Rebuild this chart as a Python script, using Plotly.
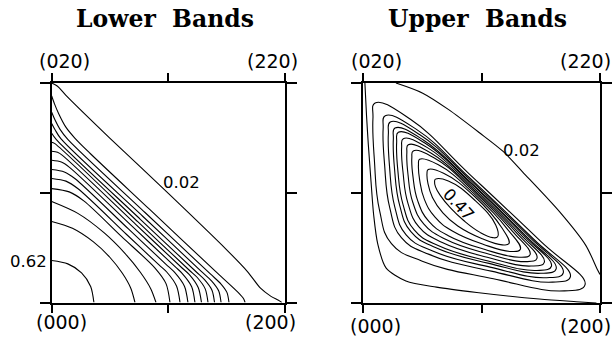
import plotly.graph_objects as go

W, H = 613, 345

# ---------------- Lower Bands (left panel) ----------------
# contour levels, outer (0.02) -> inner (0.62)
lower_levels = [0.02, 0.07, 0.11, 0.16, 0.20, 0.25, 0.30, 0.34, 0.39, 0.43, 0.48, 0.53, 0.57, 0.62]
# traced contour paths in unit coordinates: u = (000)->(200), v = (000)->(020)
lower_u = [
    [0, 0.025, 0.06, 0.25, 0.5, 0.75, 0.84, 0.895, 0.94, 0.972, 0.986],
    [0, 0.012, 0.03, 0.06, 0.10, 0.164, 0.42, 0.70, 0.80, 0.822, 0.829],
    [0, 0.015, 0.035, 0.07, 0.40, 0.68, 0.725, 0.751, 0.760],
    [0, 0.015, 0.04, 0.39, 0.64, 0.686, 0.716, 0.726],
    [0, 0.02, 0.38, 0.62, 0.655, 0.687, 0.698],
    [0, 0.012, 0.37, 0.59, 0.623, 0.658, 0.670],
    [0, 0.025, 0.046, 0.36, 0.56, 0.590, 0.628, 0.642],
    [0, 0.041, 0.075, 0.35, 0.53, 0.559, 0.600, 0.614],
    [0, 0.054, 0.099, 0.33, 0.49, 0.527, 0.569, 0.584],
    [0, 0.061, 0.113, 0.32, 0.46, 0.493, 0.535, 0.550],
    [0, 0.075, 0.139, 0.30, 0.441, 0.490, 0.507],
    [0, 0.112, 0.224, 0.313, 0.380, 0.425, 0.447],
    [0, 0.089, 0.179, 0.250, 0.303, 0.339, 0.357],
    [0, 0.069, 0.128, 0.167, 0.181],
]
lower_v = [
    [1.0, 0.985, 0.945, 0.748, 0.497, 0.24, 0.14, 0.065, 0.028, 0.01, 0.0],
    [0.941, 0.905, 0.86, 0.80, 0.748, 0.680, 0.424, 0.144, 0.045, 0.018, 0.0],
    [0.867, 0.83, 0.79, 0.742, 0.41, 0.13, 0.085, 0.046, 0.0],
    [0.816, 0.786, 0.745, 0.393, 0.143, 0.097, 0.052, 0.0],
    [0.771, 0.742, 0.379, 0.139, 0.104, 0.056, 0.0],
    [0.730, 0.725, 0.367, 0.147, 0.115, 0.062, 0.0],
    [0.689, 0.684, 0.670, 0.356, 0.156, 0.127, 0.068, 0.0],
    [0.648, 0.640, 0.617, 0.342, 0.162, 0.133, 0.072, 0.0],
    [0.606, 0.595, 0.565, 0.334, 0.174, 0.137, 0.074, 0.0],
    [0.565, 0.553, 0.518, 0.311, 0.171, 0.139, 0.075, 0.0],
    [0.519, 0.504, 0.462, 0.30, 0.159, 0.086, 0.0],
    [0.460, 0.406, 0.318, 0.225, 0.138, 0.062, 0.0],
    [0.369, 0.338, 0.276, 0.205, 0.133, 0.065, 0.0],
    [0.191, 0.176, 0.135, 0.073, 0.0],
]

# ---------------- Upper Bands (right panel) ----------------
upper_levels = [0.02, 0.06, 0.10, 0.14, 0.18, 0.22, 0.27, 0.31, 0.35, 0.39, 0.43, 0.47]
# the 0.02 level has two open branches
upper_open_u = [
    [0.139, 0.25, 0.36, 0.49, 0.59, 0.674, 0.83, 0.94, 0.99, 1.0],
    [0.008, 0.015, 0.0225, 0.034, 0.045, 0.062, 0.097, 0.181, 0.31, 0.48, 0.744, 0.90, 0.985],
]
upper_open_v = [
    [1.0, 0.955, 0.88, 0.775, 0.69, 0.595, 0.414, 0.262, 0.15, 0.13],
    [1.0, 0.85, 0.72, 0.55, 0.40, 0.27, 0.160, 0.100, 0.072, 0.048, 0.018, 0.006, 0.0],
]
# closed loops for the remaining levels, outer -> inner (0.47)
upper_loop_u = [
    [0.051, 0.200, 0.450, 0.750, 0.937, 0.850, 0.550, 0.250, 0.120, 0.070, 0.048, 0.042],
    [0.094, 0.227, 0.454, 0.718, 0.875, 0.800, 0.541, 0.279, 0.162, 0.113, 0.091, 0.085],
    [0.115, 0.240, 0.456, 0.703, 0.845, 0.775, 0.536, 0.294, 0.182, 0.134, 0.112, 0.107],
    [0.135, 0.253, 0.457, 0.687, 0.815, 0.750, 0.532, 0.308, 0.202, 0.155, 0.133, 0.128],
    [0.149, 0.261, 0.459, 0.677, 0.795, 0.734, 0.528, 0.317, 0.216, 0.169, 0.147, 0.142],
    [0.170, 0.275, 0.460, 0.661, 0.765, 0.709, 0.524, 0.332, 0.236, 0.190, 0.169, 0.163],
    [0.191, 0.288, 0.462, 0.646, 0.734, 0.684, 0.519, 0.346, 0.257, 0.210, 0.190, 0.185],
    [0.212, 0.301, 0.464, 0.630, 0.705, 0.660, 0.515, 0.360, 0.277, 0.231, 0.211, 0.206],
    [0.239, 0.318, 0.467, 0.610, 0.664, 0.627, 0.509, 0.379, 0.304, 0.259, 0.239, 0.234],
    [0.275, 0.340, 0.471, 0.585, 0.616, 0.588, 0.503, 0.400, 0.337, 0.293, 0.274, 0.270],
    [0.306, 0.360, 0.472, 0.560, 0.568, 0.548, 0.494, 0.425, 0.369, 0.326, 0.306, 0.302],
]
upper_loop_v = [
    [0.909, 0.835, 0.585, 0.280, 0.083, 0.055, 0.110, 0.190, 0.270, 0.420, 0.650, 0.840],
    [0.851, 0.788, 0.565, 0.292, 0.119, 0.095, 0.145, 0.221, 0.297, 0.432, 0.630, 0.792],
    [0.823, 0.765, 0.556, 0.299, 0.137, 0.115, 0.163, 0.236, 0.310, 0.437, 0.620, 0.768],
    [0.795, 0.742, 0.546, 0.305, 0.155, 0.135, 0.180, 0.251, 0.324, 0.443, 0.610, 0.745],
    [0.776, 0.727, 0.540, 0.309, 0.167, 0.148, 0.191, 0.261, 0.332, 0.447, 0.603, 0.729],
    [0.747, 0.704, 0.530, 0.315, 0.185, 0.168, 0.208, 0.276, 0.346, 0.452, 0.593, 0.706],
    [0.719, 0.681, 0.520, 0.321, 0.203, 0.188, 0.226, 0.291, 0.359, 0.458, 0.583, 0.682],
    [0.691, 0.659, 0.511, 0.327, 0.220, 0.208, 0.243, 0.306, 0.372, 0.464, 0.573, 0.659],
    [0.653, 0.628, 0.498, 0.335, 0.244, 0.234, 0.266, 0.326, 0.390, 0.471, 0.560, 0.628],
    [0.607, 0.590, 0.484, 0.343, 0.270, 0.264, 0.292, 0.350, 0.410, 0.480, 0.544, 0.588],
    [0.563, 0.555, 0.467, 0.355, 0.301, 0.297, 0.321, 0.375, 0.432, 0.489, 0.528, 0.553],
]

corner_labels = ["(020)", "(220)", "(000)", "(200)"]
titles = ["Lower\u00a0\u00a0Bands", "Upper\u00a0\u00a0Bands"]

# ---------------- figure ----------------
fig = go.Figure()
LINE = dict(color="black", width=1.1, shape="spline", smoothing=0.8)
LOOP = dict(color="black", width=1.1, shape="spline", smoothing=1.3)

for lev, us, vs in zip(lower_levels, lower_u, lower_v):
    fig.add_trace(go.Scatter(x=us, y=vs, mode="lines", line=LINE, name=f"{lev:.2f}",
                             xaxis="x", yaxis="y", showlegend=False))

for us, vs in zip(upper_open_u, upper_open_v):
    fig.add_trace(go.Scatter(x=us, y=vs, mode="lines", line=LINE, name="0.02",
                             xaxis="x2", yaxis="y2", showlegend=False))

for lev, us, vs in zip(upper_levels[1:], upper_loop_u, upper_loop_v):
    # start the closed path in the middle of the lower side so the join is smooth
    xs = us[6:] + us[:7]
    ys = vs[6:] + vs[:7]
    fig.add_trace(go.Scatter(x=xs, y=ys, mode="lines", line=LOOP, name=f"{lev:.2f}",
                             xaxis="x2", yaxis="y2", showlegend=False))

def px(x):
    return x / W

def py(y):
    return 1 - y / H

ax_common = dict(range=[0, 1], showline=True, linewidth=2, linecolor="black",
                 mirror="allticks", ticks="outside", tickvals=[0, 0.5, 1],
                 tickwidth=2, tickcolor="black", showticklabels=False,
                 showgrid=False, zeroline=False, fixedrange=True)

fig.update_layout(
    width=W, height=H, margin=dict(l=0, r=0, t=0, b=0),
    paper_bgcolor="white", plot_bgcolor="white", showlegend=False,
    xaxis=dict(ax_common, domain=[px(51.7), px(285)], anchor="y", ticklen=8),
    yaxis=dict(ax_common, domain=[py(302.5), py(83)], anchor="x", ticklen=10),
    xaxis2=dict(ax_common, domain=[px(363), px(600)], anchor="y2", ticklen=8),
    yaxis2=dict(ax_common, domain=[py(303), py(83)], anchor="x2", ticklen=10),
)

lab_font = dict(family="DejaVu Sans", size=19, color="black")
num_font = dict(family="DejaVu Sans", size=16.5, color="black")
tit_font = dict(family="DejaVu Serif", size=23.5, color="black", weight="bold")

ann = []
def add(text, x, y, font, angle=0):
    ann.append(dict(text=text, x=px(x), y=py(y), xref="paper", yref="paper",
                    xanchor="center", yanchor="middle", showarrow=False,
                    font=font, textangle=angle))

add(titles[0], 165, 19, tit_font)
add(titles[1], 477, 19, tit_font)
# left panel corners
add(corner_labels[0], 64.3, 61, lab_font)
add(corner_labels[1], 272.5, 61, lab_font)
add(corner_labels[2], 61.7, 322, lab_font)
add(corner_labels[3], 270, 322, lab_font)
# right panel corners
add(corner_labels[0], 376, 61, lab_font)
add(corner_labels[1], 585, 61, lab_font)
add(corner_labels[2], 375, 326, lab_font)
add(corner_labels[3], 585, 326, lab_font)
# contour labels
add(f"{lower_levels[0]:.2f}", 181.7, 182, num_font)
add(f"{lower_levels[-1]:.2f}", 28, 261, num_font)
add(f"{upper_levels[0]:.2f}", 521.7, 150.5, num_font)
add(f"{upper_levels[-1]:.2f}", 458.3, 204.7, num_font, angle=47)

fig.update_layout(annotations=ann)
fig.write_html("out.html")
